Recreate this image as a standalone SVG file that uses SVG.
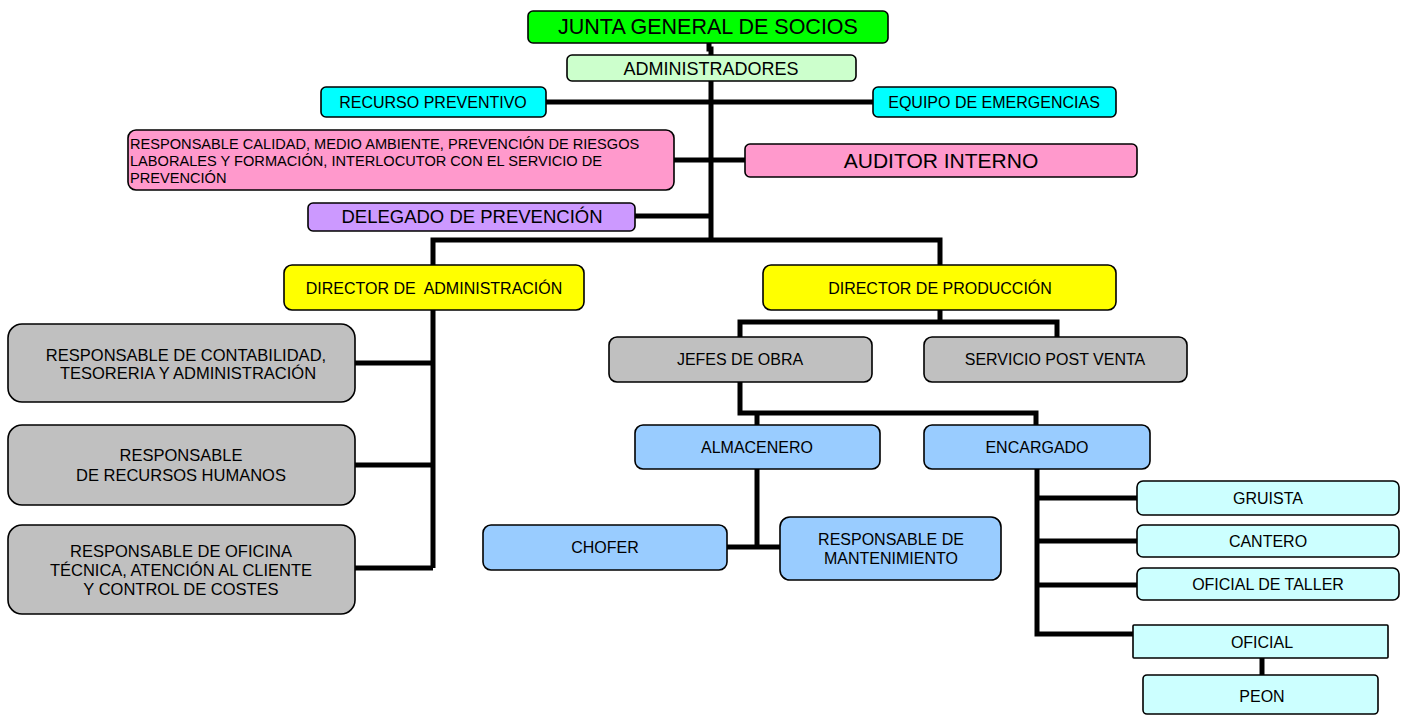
<svg xmlns="http://www.w3.org/2000/svg" width="1407" height="715" viewBox="0 0 1407 715">
<style>
.b{stroke:#000;stroke-width:1.6}
.t{font-family:"Liberation Sans",Arial,sans-serif;font-size:16px;fill:#000;text-anchor:middle}
.g{font-size:16.5px}
.c{fill:none;stroke:#000;stroke-width:5}
.green{fill:#00ff00}.lgreen{fill:#ccffcc}.cyan{fill:#00ffff}.pink{fill:#ff99cc}.violet{fill:#cc99ff}
.yellow{fill:#ffff00}.grey{fill:#c0c0c0}.blue{fill:#99ccff}.lcyan{fill:#ccffff}
</style>
<rect width="1407" height="715" fill="#fff"/>
<g id="connectors">
<path class="c" stroke-width="4" d="M709,43 V49 H711 V55"/>
<path class="c" d="M711,81 V240"/>
<path class="c" d="M546,102 H873"/>
<path class="c" d="M674,160 H745"/>
<path class="c" d="M635,216 H711"/>
<path class="c" d="M433,265 V240 H940 V265"/>
<path class="c" d="M433,310 V568"/>
<path class="c" d="M355,363 H433"/>
<path class="c" d="M355,465 H433"/>
<path class="c" d="M355,568 H433"/>
<path class="c" d="M940,310 V322"/>
<path class="c" d="M740,337 V322 H1057 V337"/>
<path class="c" d="M740,382 V413 H1036 V425"/>
<path class="c" d="M757,413 V425"/>
<path class="c" d="M757,469 V547"/>
<path class="c" d="M727,547 H780"/>
<path class="c" d="M1037,469 V634 H1133"/>
<path class="c" d="M1037,498 H1137"/>
<path class="c" d="M1037,541 H1137"/>
<path class="c" d="M1037,585 H1137"/>
<path class="c" stroke-width="4" d="M1262,658 V675"/>
</g>
<g id="junta"><rect class="b green" x="528" y="11" width="360" height="32" rx="5"/><text class="t" x="708" y="34" style="font-size:21.5px">JUNTA GENERAL DE SOCIOS</text></g>
<g id="administradores"><rect class="b lgreen" x="567" y="55" width="289" height="26" rx="5"/><text class="t" x="711" y="75" style="font-size:18px">ADMINISTRADORES</text></g>
<g id="recurso"><rect class="b cyan" x="321" y="87" width="225" height="30" rx="5"/><text class="t" x="433" y="108">RECURSO PREVENTIVO</text></g>
<g id="equipo"><rect class="b cyan" x="873" y="87" width="243" height="30" rx="5"/><text class="t" x="994" y="108">EQUIPO DE EMERGENCIAS</text></g>
<g id="responsable-calidad"><rect class="b pink" x="128" y="130" width="546" height="60" rx="8"/><text class="t" style="font-size:14.6px;text-anchor:start" x="130" y="149"><tspan x="130">RESPONSABLE CALIDAD, MEDIO AMBIENTE, PREVENCIÓN DE RIESGOS</tspan><tspan x="130" y="166">LABORALES Y FORMACIÓN, INTERLOCUTOR CON EL SERVICIO DE</tspan><tspan x="130" y="183">PREVENCIÓN</tspan></text></g>
<g id="auditor"><rect class="b pink" x="745" y="144" width="392" height="33" rx="5"/><text class="t" x="941" y="168" style="font-size:21px">AUDITOR INTERNO</text></g>
<g id="delegado"><rect class="b violet" x="308" y="203" width="327" height="28" rx="5"/><text class="t" x="472" y="223" style="font-size:18.5px">DELEGADO DE PREVENCIÓN</text></g>
<g id="dir-admin"><rect class="b yellow" x="284" y="265" width="300" height="45" rx="8"/><text class="t" x="434" y="294" xml:space="preserve">DIRECTOR DE  ADMINISTRACIÓN</text></g>
<g id="dir-prod"><rect class="b yellow" x="763" y="265" width="353" height="45" rx="8"/><text class="t" x="940" y="294">DIRECTOR DE PRODUCCIÓN</text></g>
<g id="contabilidad"><rect class="b grey" x="8" y="324" width="347" height="78" rx="14"/><text class="t g" x="186" y="361"><tspan x="186">RESPONSABLE DE CONTABILIDAD,</tspan><tspan x="188" y="379">TESORERIA Y ADMINISTRACIÓN</tspan></text></g>
<g id="rrhh"><rect class="b grey" x="8" y="425" width="347" height="80" rx="14"/><text class="t g" x="181" y="461"><tspan x="181">RESPONSABLE</tspan><tspan x="181" y="481">DE RECURSOS HUMANOS</tspan></text></g>
<g id="oficina"><rect class="b grey" x="8" y="525" width="347" height="89" rx="14"/><text class="t g" x="181" y="557"><tspan x="181">RESPONSABLE DE OFICINA</tspan><tspan x="181" y="576">TÉCNICA, ATENCIÓN AL CLIENTE</tspan><tspan x="181" y="595">Y CONTROL DE COSTES</tspan></text></g>
<g id="jefes"><rect class="b grey" x="609" y="337" width="263" height="45" rx="8"/><text class="t" x="740" y="365">JEFES DE OBRA</text></g>
<g id="postventa"><rect class="b grey" x="924" y="337" width="263" height="45" rx="8"/><text class="t" x="1055" y="365">SERVICIO POST VENTA</text></g>
<g id="almacenero"><rect class="b blue" x="635" y="425" width="245" height="44" rx="8"/><text class="t" x="757" y="453">ALMACENERO</text></g>
<g id="encargado"><rect class="b blue" x="924" y="425" width="226" height="44" rx="8"/><text class="t" x="1037" y="453">ENCARGADO</text></g>
<g id="chofer"><rect class="b blue" x="483" y="525" width="244" height="45" rx="8"/><text class="t" x="605" y="553">CHOFER</text></g>
<g id="mantenimiento"><rect class="b blue" x="780" y="517" width="221" height="63" rx="10"/><text class="t" x="891" y="545"><tspan x="891">RESPONSABLE DE</tspan><tspan x="891" y="564">MANTENIMIENTO</tspan></text></g>
<g id="gruista"><rect class="b lcyan" x="1137" y="481" width="262" height="34" rx="6"/><text class="t" x="1268" y="504">GRUISTA</text></g>
<g id="cantero"><rect class="b lcyan" x="1137" y="525" width="262" height="32" rx="6"/><text class="t" x="1268" y="547">CANTERO</text></g>
<g id="oficial-taller"><rect class="b lcyan" x="1137" y="568" width="262" height="32" rx="6"/><text class="t" x="1268" y="590">OFICIAL DE TALLER</text></g>
<g id="oficial"><rect class="b lcyan" x="1133" y="625" width="255" height="33" rx="1"/><text class="t" x="1262" y="648">OFICIAL</text></g>
<g id="peon"><rect class="b lcyan" x="1143" y="675" width="235" height="39" rx="4"/><text class="t" x="1262" y="702">PEON</text></g>
</svg>
